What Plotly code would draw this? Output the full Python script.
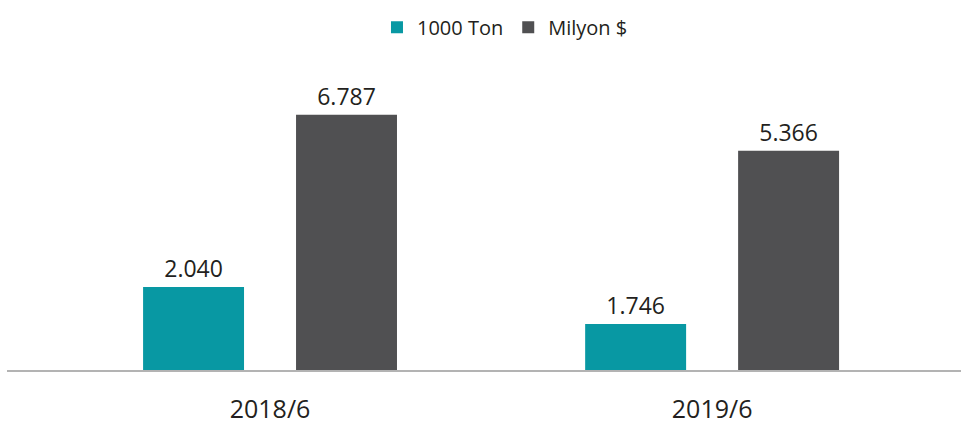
import plotly.graph_objects as go

categories = ["2018/6", "2019/6"]
ton_values = [2040, 1746]        # 1000 Ton
usd_values = [6787, 5366]        # Milyon $
series_names = ["1000 Ton", "Milyon $"]

FONT = "Open Sans"
TXT = "#231f20"

fig = go.Figure()
fig.add_trace(go.Bar(
    x=categories, y=ton_values, name=series_names[0], yaxis="y",
    offsetgroup="a", marker=dict(color="#0898a3", line=dict(width=0)),
    texttemplate="%{y:,}", textposition="outside", cliponaxis=False,
    textfont=dict(family=FONT, size=23, color=TXT),
))
fig.add_trace(go.Bar(
    x=categories, y=usd_values, name=series_names[1], yaxis="y2",
    offsetgroup="b", marker=dict(color="#505052", line=dict(width=0)),
    texttemplate="%{y:,}", textposition="outside", cliponaxis=False,
    textfont=dict(family=FONT, size=23, color=TXT),
))

fig.update_layout(
    width=961, height=427,
    margin=dict(l=7, r=0, t=60, b=57),
    paper_bgcolor="white", plot_bgcolor="white",
    separators=",.",
    barmode="group", bargap=0.308, bargroupgap=0.34,
    font=dict(family=FONT, color=TXT),
    showlegend=True,
    legend=dict(orientation="h", x=0.522, xanchor="center", y=1.106, yanchor="middle",
                font=dict(family=FONT, size=20, color=TXT), itemwidth=30,
                bgcolor="rgba(0,0,0,0)"),
    xaxis=dict(range=[-0.595, 1.563], showgrid=False, zeroline=False,
               showline=True, linecolor="#b3b3b3", linewidth=2,
               ticks="", ticklabelstandoff=16,
               tickfont=dict(family=FONT, size=25, color=TXT)),
    yaxis=dict(range=[1380.5, 3843.8], visible=False, showgrid=False, zeroline=False),
    yaxis2=dict(type="log", range=[3.1081, 3.9868], overlaying="y", visible=False,
                showgrid=False, zeroline=False),
)

fig.write_html("out.html", config={"displayModeBar": False},
               post_script="document.body.style.margin='0';document.body.style.overflow='hidden';")
